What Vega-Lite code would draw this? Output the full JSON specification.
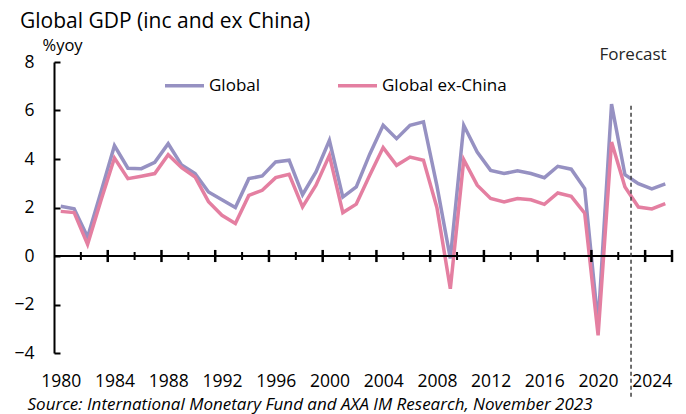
{
  "$schema": "https://vega.github.io/schema/vega-lite/v6.json",
  "width": 618,
  "height": 291,
  "autosize": "none",
  "padding": {"left": 54, "top": 62, "right": 14, "bottom": 61},
  "background": "white",
  "title": {"text": "Global GDP (inc and ex China)", "anchor": "start", "frame": "group", "dx": -34, "dy": 20, "fontSize": 21, "font": "Open Sans", "fontWeight": "normal", "color": "#000000", "baseline": "alphabetic", "offset": 8},
  "config": {"view": {"stroke": null}, "font": "Open Sans", "axis": {"grid": false, "labelColor": "#000000", "labelFont": "Open Sans", "titleFont": "Open Sans", "domainColor": "#000000", "tickColor": "#000000"}},
  "datasets": {
    "gdp": [
      {"year": 1980, "series": "Global", "value": 2.05}, {"year": 1981, "series": "Global", "value": 1.95}, {"year": 1982, "series": "Global", "value": 0.78}, {"year": 1983, "series": "Global", "value": 2.65}, {"year": 1984, "series": "Global", "value": 4.55},
      {"year": 1985, "series": "Global", "value": 3.62}, {"year": 1986, "series": "Global", "value": 3.6}, {"year": 1987, "series": "Global", "value": 3.86}, {"year": 1988, "series": "Global", "value": 4.63}, {"year": 1989, "series": "Global", "value": 3.75},
      {"year": 1990, "series": "Global", "value": 3.4}, {"year": 1991, "series": "Global", "value": 2.64}, {"year": 1992, "series": "Global", "value": 2.32}, {"year": 1993, "series": "Global", "value": 2.0}, {"year": 1994, "series": "Global", "value": 3.19},
      {"year": 1995, "series": "Global", "value": 3.3}, {"year": 1996, "series": "Global", "value": 3.88}, {"year": 1997, "series": "Global", "value": 3.95}, {"year": 1998, "series": "Global", "value": 2.53}, {"year": 1999, "series": "Global", "value": 3.47},
      {"year": 2000, "series": "Global", "value": 4.77}, {"year": 2001, "series": "Global", "value": 2.43}, {"year": 2002, "series": "Global", "value": 2.85}, {"year": 2003, "series": "Global", "value": 4.2}, {"year": 2004, "series": "Global", "value": 5.39},
      {"year": 2005, "series": "Global", "value": 4.84}, {"year": 2006, "series": "Global", "value": 5.39}, {"year": 2007, "series": "Global", "value": 5.53}, {"year": 2008, "series": "Global", "value": 2.9}, {"year": 2009, "series": "Global", "value": -0.1},
      {"year": 2010, "series": "Global", "value": 5.39}, {"year": 2011, "series": "Global", "value": 4.29}, {"year": 2012, "series": "Global", "value": 3.53}, {"year": 2013, "series": "Global", "value": 3.4}, {"year": 2014, "series": "Global", "value": 3.51},
      {"year": 2015, "series": "Global", "value": 3.4}, {"year": 2016, "series": "Global", "value": 3.23}, {"year": 2017, "series": "Global", "value": 3.7}, {"year": 2018, "series": "Global", "value": 3.58}, {"year": 2019, "series": "Global", "value": 2.78},
      {"year": 2020, "series": "Global", "value": -2.8}, {"year": 2021, "series": "Global", "value": 6.26}, {"year": 2022, "series": "Global", "value": 3.35}, {"year": 2023, "series": "Global", "value": 2.98}, {"year": 2024, "series": "Global", "value": 2.77},
      {"year": 2025, "series": "Global", "value": 2.97},
      {"year": 1980, "series": "Global ex-China", "value": 1.84}, {"year": 1981, "series": "Global ex-China", "value": 1.79}, {"year": 1982, "series": "Global ex-China", "value": 0.48}, {"year": 1983, "series": "Global ex-China", "value": 2.3}, {"year": 1984, "series": "Global ex-China", "value": 4.04},
      {"year": 1985, "series": "Global ex-China", "value": 3.19}, {"year": 1986, "series": "Global ex-China", "value": 3.29}, {"year": 1987, "series": "Global ex-China", "value": 3.4}, {"year": 1988, "series": "Global ex-China", "value": 4.18}, {"year": 1989, "series": "Global ex-China", "value": 3.64},
      {"year": 1990, "series": "Global ex-China", "value": 3.26}, {"year": 1991, "series": "Global ex-China", "value": 2.24}, {"year": 1992, "series": "Global ex-China", "value": 1.68}, {"year": 1993, "series": "Global ex-China", "value": 1.34}, {"year": 1994, "series": "Global ex-China", "value": 2.5},
      {"year": 1995, "series": "Global ex-China", "value": 2.71}, {"year": 1996, "series": "Global ex-China", "value": 3.23}, {"year": 1997, "series": "Global ex-China", "value": 3.37}, {"year": 1998, "series": "Global ex-China", "value": 2.02}, {"year": 1999, "series": "Global ex-China", "value": 2.92},
      {"year": 2000, "series": "Global ex-China", "value": 4.15}, {"year": 2001, "series": "Global ex-China", "value": 1.79}, {"year": 2002, "series": "Global ex-China", "value": 2.14}, {"year": 2003, "series": "Global ex-China", "value": 3.33}, {"year": 2004, "series": "Global ex-China", "value": 4.47},
      {"year": 2005, "series": "Global ex-China", "value": 3.74}, {"year": 2006, "series": "Global ex-China", "value": 4.08}, {"year": 2007, "series": "Global ex-China", "value": 3.95}, {"year": 2008, "series": "Global ex-China", "value": 2.0}, {"year": 2009, "series": "Global ex-China", "value": -1.35},
      {"year": 2010, "series": "Global ex-China", "value": 3.97}, {"year": 2011, "series": "Global ex-China", "value": 2.92}, {"year": 2012, "series": "Global ex-China", "value": 2.37}, {"year": 2013, "series": "Global ex-China", "value": 2.23}, {"year": 2014, "series": "Global ex-China", "value": 2.37},
      {"year": 2015, "series": "Global ex-China", "value": 2.32}, {"year": 2016, "series": "Global ex-China", "value": 2.13}, {"year": 2017, "series": "Global ex-China", "value": 2.6}, {"year": 2018, "series": "Global ex-China", "value": 2.46}, {"year": 2019, "series": "Global ex-China", "value": 1.77},
      {"year": 2020, "series": "Global ex-China", "value": -3.27}, {"year": 2021, "series": "Global ex-China", "value": 4.7}, {"year": 2022, "series": "Global ex-China", "value": 2.85}, {"year": 2023, "series": "Global ex-China", "value": 2.02}, {"year": 2024, "series": "Global ex-China", "value": 1.94},
      {"year": 2025, "series": "Global ex-China", "value": 2.16}
    ],
    "baseline": [{"start": 1979.5, "end": 2025.5, "zero": 0}],
    "majorTicks": [{"boundary": 1983.5}, {"boundary": 1987.5}, {"boundary": 1991.5}, {"boundary": 1995.5}, {"boundary": 1999.5}, {"boundary": 2003.5}, {"boundary": 2007.5}, {"boundary": 2011.5}, {"boundary": 2015.5}, {"boundary": 2019.5}, {"boundary": 2023.5}, {"boundary": 2025.5}],
    "minorTicks": [{"boundary": 1981.5}, {"boundary": 1985.5}, {"boundary": 1989.5}, {"boundary": 1993.5}, {"boundary": 1997.5}, {"boundary": 2001.5}, {"boundary": 2005.5}, {"boundary": 2009.5}, {"boundary": 2013.5}, {"boundary": 2017.5}, {"boundary": 2021.5}],
    "forecast": [{"label": "Forecast", "year": 2022.45, "top": 6.2, "bottom": -5.9, "labelYear": 2022.6, "labelValue": 8}]
  },
  "layer": [
    {
      "data": {"name": "gdp"},
      "mark": {"type": "line", "strokeWidth": 3.5, "strokeJoin": "miter"},
      "encoding": {
        "x": {"field": "year", "type": "quantitative", "scale": {"domain": [1979.5, 2025.5], "nice": false, "zero": false},
          "axis": {"orient": "bottom", "values": [1980, 1984, 1988, 1992, 1996, 2000, 2004, 2008, 2012, 2016, 2020, 2024], "format": "d", "ticks": false, "domain": false, "labelFontSize": 17.5, "labelPadding": 19,
            "title": "Source: International Monetary Fund and AXA IM Research, November 2023", "titleFontStyle": "italic", "titleFontWeight": "normal", "titleFontSize": 17, "titleAlign": "left", "titleAnchor": "start", "titleX": -27, "titleY": 56, "titleBaseline": "alphabetic", "titleColor": "#000000"}},
        "y": {"field": "value", "type": "quantitative", "scale": {"domain": [-4, 8], "nice": false, "zero": false},
          "axis": {"orient": "left", "values": [-4, -2, 0, 2, 4, 6, 8], "ticks": true, "tickSize": -6, "tickWidth": 2, "domain": true, "domainWidth": 2, "labelFontSize": 17.5, "labelPadding": 26,
            "title": "%yoy", "titleAngle": 0, "titleAlign": "left", "titleBaseline": "alphabetic", "titleX": -12, "titleY": -12, "titleFontSize": 16.5, "titleFontWeight": "normal", "titleColor": "#000000"}},
        "color": {"field": "series", "type": "nominal", "scale": {"domain": ["Global", "Global ex-China"], "range": ["#9691c2", "#e47fa1"]},
          "legend": {"orient": "none", "legendX": 109, "legendY": 2, "direction": "horizontal", "title": null, "symbolType": "stroke", "symbolSize": 1521, "symbolStrokeWidth": 3.5, "labelFontSize": 17, "labelFont": "Open Sans", "labelColor": "#000000", "labelOffset": 3, "columnPadding": 70}}
      }
    },
    {
      "data": {"name": "baseline"},
      "mark": {"type": "rule", "color": "#000000", "strokeWidth": 2},
      "encoding": {
        "x": {"field": "start", "type": "quantitative"},
        "x2": {"field": "end"},
        "y": {"field": "zero", "type": "quantitative"}
      }
    },
    {
      "data": {"name": "majorTicks"},
      "mark": {"type": "rule", "color": "#000000", "strokeWidth": 2.5},
      "encoding": {
        "x": {"field": "boundary", "type": "quantitative"},
        "y": {"datum": 0.25, "type": "quantitative"},
        "y2": {"datum": -0.25}
      }
    },
    {
      "data": {"name": "minorTicks"},
      "mark": {"type": "rule", "color": "#000000", "strokeWidth": 2},
      "encoding": {
        "x": {"field": "boundary", "type": "quantitative"},
        "y": {"datum": 0.165, "type": "quantitative"},
        "y2": {"datum": -0.165}
      }
    },
    {
      "data": {"name": "forecast"},
      "mark": {"type": "rule", "color": "#404040", "strokeWidth": 1.5, "strokeDash": [4, 3]},
      "encoding": {
        "x": {"field": "year", "type": "quantitative"},
        "y": {"field": "top", "type": "quantitative"},
        "y2": {"field": "bottom"}
      }
    },
    {
      "data": {"name": "forecast"},
      "mark": {"type": "text", "fontSize": 17, "font": "Open Sans", "color": "#262626", "align": "center", "baseline": "alphabetic", "dy": -2},
      "encoding": {
        "x": {"field": "labelYear", "type": "quantitative"},
        "y": {"field": "labelValue", "type": "quantitative"},
        "text": {"field": "label"}
      }
    }
  ]
}
